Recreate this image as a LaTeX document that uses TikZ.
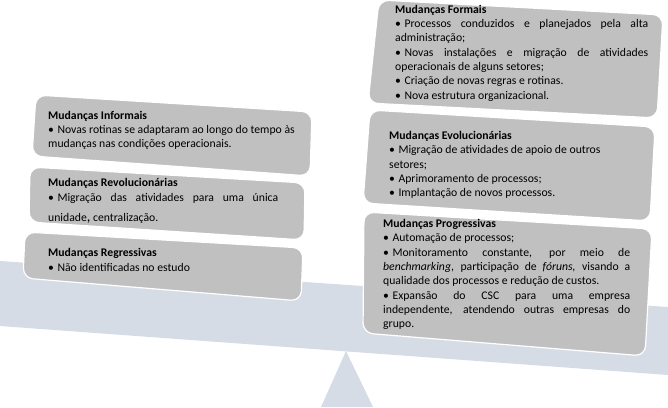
\documentclass[tikz,border=0pt]{standalone}
\usepackage{fontspec}
\setmainfont{Carlito}
\usepackage{tikz}
\usetikzlibrary{positioning}
\definecolor{beamblue}{HTML}{D6DCE5}
\definecolor{panelgray}{HTML}{C0C0C0}
\newcommand{\bul}{•\hspace{0.3em}}
\tikzset{
  beam/.style  = {fill=beamblue},
  panel/.style = {fill=panelgray, draw=white, line width=1.2pt, rounded corners=10pt},
  txt/.style   = {anchor=base west, inner sep=0pt, align=justify, text=black,
                  font=\fontsize{11.7}{14.3}\selectfont},
}

\begin{document}
\begin{tikzpicture}[x=1pt,y=-1pt]
  \useasboundingbox (0,0) rectangle (668,407);
  \fill[beam] (0,261) -- (668,307) -- (668,375) -- (0,326) -- cycle;
  \fill[beam] (346,351) -- (373,407) -- (321,407) -- cycle;

  \draw[panel] (36,95) -- (312,112) -- (310,176) -- (32,156) -- cycle;
  \draw[panel] (30,167) -- (305,183) -- (304,240) -- (29,222) -- cycle;
  \draw[panel] (25,232) -- (303,248) -- (301,301) -- (23,278) -- cycle;
  \draw[panel] (379,0) -- (663,15) -- (657,118) -- (368,103) -- cycle;
  \draw[panel] (370,110) -- (655,127) -- (650,221) -- (363,203) -- cycle;
  \draw[panel] (364,212) -- (652,229) -- (645,356) -- (363,333) -- cycle;

  \node[txt, text width=250pt] (informais) at (48,119)
    {\textbf{Mudanças Informais}\newline
     \bul Novas rotinas se adaptaram ao longo do tempo às\newline
     mudanças nas condições operacionais.};
  \node[txt, text width=230pt] (revolucionarias) at (48,186.7)
    {\textbf{Mudanças Revolucionárias}\newline
     \bul Migração das atividades para uma única\vadjust{\vskip 6.5pt}\linebreak
     unidade{\Large,} centralização.};
  \node[txt, text width=250pt] (regressivas) at (48,256.7)
    {\textbf{Mudanças Regressivas}\newline
     \bul Não identificadas no estudo};

  \node[txt, text width=253pt] (formais) at (395,13.3)
    {\textbf{Mudanças Formais}\newline
     \bul Processos conduzidos e planejados pela alta\linebreak
     administração;\newline
     \bul Novas instalações e migração de atividades\linebreak
     operacionais de alguns setores;\newline
     \bul Criação de novas regras e rotinas.\newline
     \bul Nova estrutura organizacional.};
  \node[txt, text width=250pt] (evolucionarias) at (389,139.5)
    {\textbf{Mudanças Evolucionárias}\newline
     \bul Migração de atividades de apoio de outros\newline
     setores;\newline
     \bul Aprimoramento de processos;\newline
     \bul Implantação de novos processos.};
  \node[txt, text width=247pt] (progressivas) at (383,227.5)
    {\textbf{Mudanças Progressivas}\newline
     \bul Automação de processos;\newline
     \bul Monitoramento constante, por meio de\linebreak
     \textit{benchmarking}, participação de \textit{fóruns,} visando a\linebreak
     qualidade dos processos e redução de custos.\newline
     \bul Expansão do CSC para uma empresa\linebreak
     independente, atendendo outras empresas do\linebreak
     grupo.};
\end{tikzpicture}
\end{document}
